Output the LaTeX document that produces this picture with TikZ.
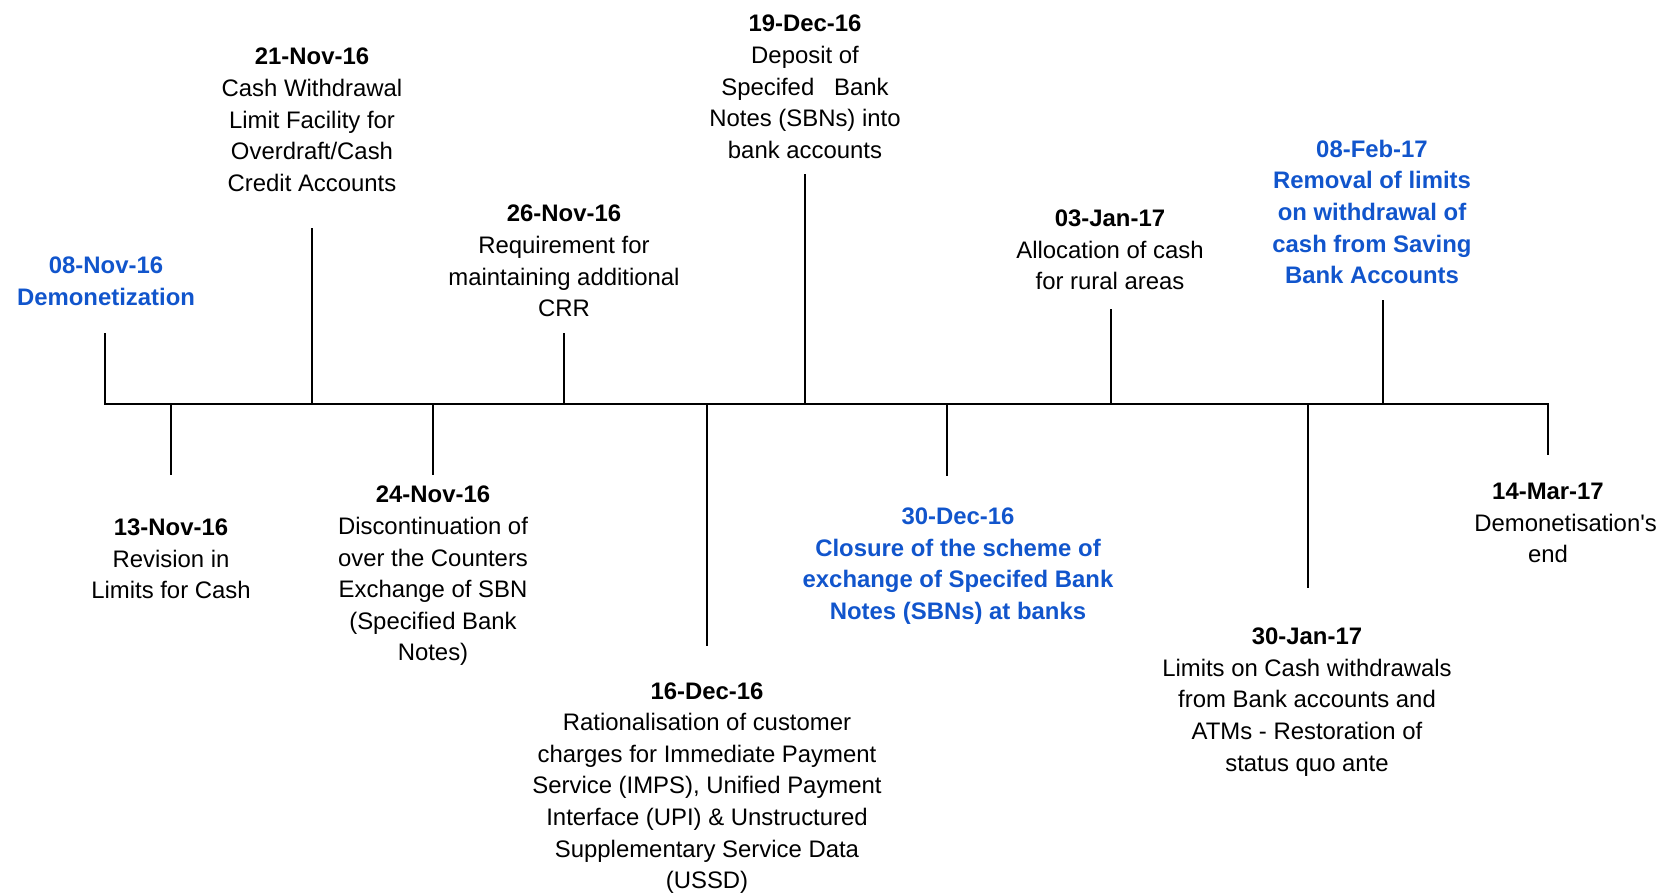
\documentclass[tikz,border=0pt]{standalone}
\usepackage{fontspec}
\setmainfont{Liberation Sans}[Ligatures=TeXOff]
\usetikzlibrary{positioning}
\definecolor{keyColor}{RGB}{17,85,204}
\tikzset{event/.style={align=center, inner sep=0pt, font=\fontsize{13.6pt}{18pt}\selectfont}}
\tikzset{keyevent/.style={event, text=keyColor, font=\fontsize{13.6pt}{18pt}\selectfont\bfseries}}
\tikzset{stem/.style={line width=1.2pt}}

\begin{document}
\begin{tikzpicture}[x=0.02cm, y=-0.02cm]
\useasboundingbox (0,0) rectangle (1671,896);
% Nodes
\coordinate (Nov08Axis) at (105,404);  \coordinate (Nov08End) at (105,333);
\coordinate (Nov13Axis) at (171,404);  \coordinate (Nov13End) at (171,475);
\coordinate (Nov21Axis) at (312,404);  \coordinate (Nov21End) at (312,228);
\coordinate (Nov24Axis) at (433,404);  \coordinate (Nov24End) at (433,475);
\coordinate (Nov26Axis) at (564,404);  \coordinate (Nov26End) at (564,333);
\coordinate (Dec16Axis) at (707,404);  \coordinate (Dec16End) at (707,646);
\coordinate (Dec19Axis) at (805,404);  \coordinate (Dec19End) at (805,174);
\coordinate (Dec30Axis) at (947,404);  \coordinate (Dec30End) at (947,476);
\coordinate (Jan03Axis) at (1111,404); \coordinate (Jan03End) at (1111,309);
\coordinate (Jan30Axis) at (1308,404); \coordinate (Jan30End) at (1308,588);
\coordinate (Feb08Axis) at (1383,404); \coordinate (Feb08End) at (1383,300);
\coordinate (Mar14Axis) at (1548,404); \coordinate (Mar14End) at (1548,455);

\node (Nov08Label) [keyevent] at (106,281) {08-Nov-16\\Demonetization};
\node (Nov13Label) [event] at (171,559) {\textbf{13-Nov-16}\\Revision in\\Limits for Cash};
\node (Nov21Label) [event] at (312,120) {\textbf{21-Nov-16}\\Cash Withdrawal\\Limit Facility for\\Overdraft/Cash\\Credit Accounts};
\node (Nov24Label) [event] at (433,576) {\textbf{24-Nov-16}\\Discontinuation of\\over the Counters\\Exchange of SBN\\(Specified Bank\\Notes)};
\node (Nov26Label) [event] at (564,261) {\textbf{26-Nov-16}\\Requirement for\\maintaining additional\\CRR};
\node (Dec16Label) [event] at (707,788) {\textbf{16-Dec-16}\\Rationalisation of customer\\charges for Immediate Payment\\Service (IMPS), Unified Payment\\Interface (UPI) \& Unstructured\\Supplementary Service Data\\(USSD)};
\node (Dec19Label) [event] at (805,87) {\textbf{19-Dec-16}\\Deposit of\\Specifed\ \ \ Bank\\Notes (SBNs) into\\bank accounts};
\node (Dec30Label) [keyevent] at (958,566) {30-Dec-16\\Closure of the scheme of\\exchange of Specifed Bank\\Notes (SBNs) at banks};
\node (Jan03Label) [event] at (1110,250) {\textbf{03-Jan-17}\\Allocation of cash\\for rural areas};
\node (Jan30Label) [event] at (1307,702) {\textbf{30-Jan-17}\\Limits on Cash withdrawals\\from Bank accounts and\\ATMs - Restoration of\\status quo ante};
\node (Feb08Label) [keyevent] at (1372,212) {08-Feb-17\\Removal of limits\\on withdrawal of\\cash from Saving\\Bank Accounts};
\node (Mar14Label) [event] at (1548,523) {\textbf{14-Mar-17}\\\hspace*{20pt}Demonetisation's\\end};

% Connectors
\draw [line width=1.4pt] (Nov08End) -- (Nov08Axis) -- (Mar14Axis) -- (Mar14End);
\draw [stem] (Nov13Axis) -- (Nov13End);
\draw [stem] (Nov21Axis) -- (Nov21End);
\draw [stem] (Nov24Axis) -- (Nov24End);
\draw [stem] (Nov26Axis) -- (Nov26End);
\draw [stem] (Dec16Axis) -- (Dec16End);
\draw [stem] (Dec19Axis) -- (Dec19End);
\draw [stem] (Dec30Axis) -- (Dec30End);
\draw [stem] (Jan03Axis) -- (Jan03End);
\draw [stem] (Jan30Axis) -- (Jan30End);
\draw [stem] (Feb08Axis) -- (Feb08End);
\end{tikzpicture}
\end{document}
